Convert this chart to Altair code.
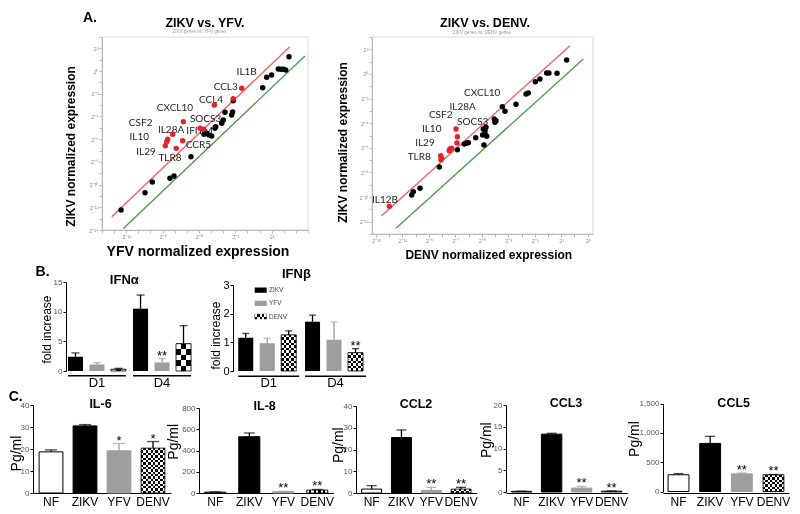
import math
import altair as alt
import pandas as pd

FONT = "Liberation Sans"
GENE_FONT = "Lato"
RED_DOT = "#e3242b"
RED_LINE = "#ec6363"
GREEN_LINE = "#4c9f4c"
GREY_BAR = "#9e9e9e"
AXIS_GREY = "#a6a6a6"

ROW1_H = 211
B_H = 89
C_H = 88
# grid column widths (layout only)
COL_W = [33, 36, 97, 34, 123, 16, 134, 157, 126]

# ---------------- Panel A (values are log2 exponents) ----------------
A1_BLACK_X = [-11.43, -9.45, -8.85, -7.39, -7.06, -5.66, -4.58, -4.36, -4.17, -3.95,
              -3.68, -3.62, -3.12, -2.99, -2.85, -2.30, -2.22, -2.17, 0.26, 0.59,
              1.00, 1.55, 1.77, 1.96, 2.16, 2.43]
A1_BLACK_Y = [-12.24, -10.72, -9.78, -9.45, -9.25, -7.55, -5.57, -5.48, -5.63, -5.72,
              -5.04, -4.90, -4.60, -4.31, -3.63, -3.87, -3.61, -2.61, -1.47, -0.55,
              -0.35, 0.18, 0.15, 0.15, 0.09, 1.26]
A1_RED_X = [-1.47, -2.17, -3.73, -6.29, -7.17, -7.58, -7.66, -7.78, -6.87, -6.34, -4.91, -4.64]
A1_RED_Y = [-1.52, -2.44, -2.99, -4.46, -5.57, -6.01, -6.22, -6.58, -6.81, -6.14, -5.04, -5.13]
A1_GENES = ["IL1B", "CCL3", "CCL4", "CXCL10", "IL28A", "CSF2", "IL10", "IL29", "TLR8", "CCR5", "SOCS3", "IFITM"]
A1_GENE_X = [-1.06, -2.79, -4.00, -6.98, -7.30, -9.81, -9.92, -9.37, -7.39, -5.05, -4.45, -4.95]
A1_GENE_Y = [-0.06, -1.43, -2.55, -3.28, -5.19, -4.55, -5.78, -7.11, -7.69, -6.52, -4.25, -5.32]
A1_RED_LINE_X = [-12.2, 2.5]
A1_RED_LINE_Y = [-12.83, 2.15]
A1_GREEN_LINE_X = [-11.24, 3.75]
A1_GREEN_LINE_Y = [-13.86, 1.33]
A1_X_LABELS = [-11, -8, -5, -2, 1]
A1_Y_LABELS = [-14, -12, -10, -8, -6, -4, -2, 0, 2]

A2_BLACK_X = [-10.30, -10.18, -9.67, -8.21, -6.85, -6.33, -6.14, -6.02, -5.46, -4.94,
              -4.76, -4.63, -4.89, -4.76, -4.69, -4.84, -4.06, -4.01, -3.93, -3.45,
              -3.25, -2.42, -1.66, -1.49, -0.96, -0.61, -0.10, 0.07, 0.68, 1.41]
A2_BLACK_Y = [-9.83, -9.57, -9.29, -7.56, -6.15, -5.69, -5.61, -5.59, -5.18, -4.96,
              -4.88, -5.07, -4.47, -4.61, -4.33, -5.77, -3.66, -3.93, -3.80, -2.66,
              -3.03, -2.47, -1.63, -1.55, -0.63, -0.41, 0.08, 0.08, 0.05, 1.13]
A2_RED_X = [-6.95, -6.85, -6.88, -7.41, -7.28, -7.46, -8.11, -8.03, -8.09, -11.99]
A2_RED_Y = [-4.47, -5.10, -5.61, -6.10, -6.04, -6.24, -6.64, -6.85, -6.97, -10.75]
A2_GENES = ["CXCL10", "IL28A", "CSF2", "SOCS3", "IL10", "IL29", "TLR8", "IL12B"]
A2_GENE_X = [-4.97, -6.45, -8.11, -5.69, -8.79, -9.30, -9.73, -12.32]
A2_GENE_Y = [-1.57, -2.71, -3.34, -3.88, -4.47, -5.63, -6.77, -10.24]
A2_RED_LINE_X = [-12.57, 1.66]
A2_RED_LINE_Y = [-11.51, 2.29]
A2_GREEN_LINE_X = [-11.49, 2.67]
A2_GREEN_LINE_Y = [-12.54, 1.21]
A2_X_LABELS = [-13, -11, -9, -7, -5, -3, -1, 1, 3]
A2_Y_LABELS = [-12, -10, -8, -6, -4, -2, 0, 2]

# ---------------- Panel B (fold increase) ----------------
B_DAYS = ["D1", "D4"]
B_VIRUS = ["ZIKV", "YFV", "DENV"]
IFNA_VALS = [[2.4, 10.5], [1.1, 1.45], [0.3, 4.6]]
IFNA_ERRS = [[0.65, 2.3], [0.3, 0.65], [0.15, 3.05]]
IFNA_STARS = [["", ""], ["", "**"], ["", ""]]
IFNB_VALS = [[1.16, 1.72], [0.97, 1.09], [1.26, 0.64]]
IFNB_ERRS = [[0.15, 0.23], [0.17, 0.62], [0.14, 0.14]]
IFNB_STARS = [["", ""], ["", ""], ["", "**"]]

# ---------------- Panel C (Pg/ml) ----------------
C_GROUPS = ["NF", "ZIKV", "YFV", "DENV"]
IL6_VALS = [18.7, 30.5, 19.2, 20.4]
IL6_ERRS = [0.9, 0.6, 3.3, 3.0]
IL6_STARS = ["", "", "*", "*"]
IL8_VALS = [8, 530, 12, 28]
IL8_ERRS = [3, 35, 3, 5]
IL8_STARS = ["", "", "**", "**"]
CCL2_VALS = [1.8, 25.5, 1.2, 1.8]
CCL2_ERRS = [1.6, 3.5, 1.4, 0.8]
CCL2_STARS = ["", "", "**", "**"]
CCL3_VALS = [0.15, 13.3, 0.9, 0.2]
CCL3_ERRS = [0.05, 0.2, 0.4, 0.05]
CCL3_STARS = ["", "", "**", "**"]
CCL5_VALS = [285, 820, 300, 285]
CCL5_ERRS = [20, 120, 15, 5]
CCL5_STARS = ["", "", "**", "**"]

SUP = str.maketrans("-0123456789", "⁻⁰¹²³⁴⁵⁶⁷⁸⁹")


def pow2(n):
    return "2" + str(n).translate(SUP)


def label_expr(vals):
    keys = ",".join(str(v) for v in vals)
    labs = ",".join("'%s'" % pow2(v) for v in vals)
    return "indexof([%s], datum.value) >= 0 ? [%s][indexof([%s], datum.value)] : ''" % (keys, labs, keys)


def text_layer(txt, x, y, size, weight="normal", color="black", font=FONT, align="center", baseline="middle"):
    return alt.Chart(pd.DataFrame({"t": [txt]})).mark_text(
        font=font, fontSize=size, fontWeight=weight, color=color, align=align, baseline=baseline
    ).encode(x=alt.value(x), y=alt.value(y), text="t:N")


def checker_fills(n_cols, n_rows):
    def stripes(n, horizontal, first, second):
        stops = []
        for k in range(n):
            c = first if k % 2 == 0 else second
            stops.append({"offset": round(k / n, 5), "color": c})
            stops.append({"offset": round((k + 1) / n, 5), "color": c})
        return {"gradient": "linear", "stops": stops, "x1": 0, "y1": 0,
                "x2": 0 if horizontal else 1, "y2": 1 if horizontal else 0}
    return (stripes(max(1, n_cols), False, "#000000", "#ffffff"),
            stripes(max(1, n_rows), True, "#ffffff", "#000000"))


def pattern_layers(base, enc, w_px, h_px, cell, outline=True):
    ga, gb = checker_fills(int(round(w_px / cell)), int(round(h_px / cell)))
    out = [base.mark_bar(fill=ga).encode(**enc),
           base.mark_bar(fill=gb, blend="difference").encode(**enc)]
    if outline:
        out.append(base.mark_bar(fillOpacity=0, stroke="black", strokeWidth=0.8).encode(**enc))
    return out


def scatter_panel(xdom, ydom, plot_w, cell_w, frame_h, bx, by, rx, ry, genes, gx, gy, rl, gl,
                  xlabels, ylabels, xtitle, xtitle_size, xtitle_xy, ytitle_xy,
                  title, title_xy, subtitle, subtitle_xy, letter=None):
    xs = alt.Scale(domain=xdom, nice=False, zero=False, range=[0, plot_w])
    ys = alt.Scale(domain=ydom, nice=False, zero=False, range=[frame_h, 0])
    common = dict(labelFont=FONT, labelFontSize=5.5, labelColor="#8c8c8c", labelPadding=1,
                  labelOverlap=False, labelFlush=False, tickSize=3, tickColor=AXIS_GREY,
                  tickWidth=0.8, domainColor=AXIS_GREY, domainWidth=1, grid=False,
                  titleFont=FONT, titleFontWeight="bold", titleColor="black",
                  titleAlign="center", titleBaseline="middle")
    xax = alt.Axis(values=list(range(math.ceil(xdom[0]), math.floor(xdom[1]) + 1)),
                   labelExpr=label_expr(xlabels), offset=frame_h - ROW1_H,
                   title=xtitle, titleFontSize=xtitle_size,
                   titleX=xtitle_xy[0], titleY=xtitle_xy[1], **common)
    yax = alt.Axis(values=list(range(math.ceil(ydom[0]), math.floor(ydom[1]) + 1)),
                   labelExpr=label_expr(ylabels), title="ZIKV normalized  expression",
                   titleFontSize=12, titleAngle=270,
                   titleX=ytitle_xy[0], titleY=ytitle_xy[1], **common)

    def X(f):
        return alt.X(f, type="quantitative", scale=xs, axis=xax)

    def Y(f):
        return alt.Y(f, type="quantitative", scale=ys, axis=yax)

    frame = alt.Chart(pd.DataFrame({"x0": [xdom[0]], "x1": [xdom[1]], "y0": [ydom[0]], "y1": [ydom[1]]})).mark_rect(
        fillOpacity=0, stroke="#cfcfcf", strokeWidth=0.8).encode(x=X("x0"), x2="x1", y=Y("y0"), y2="y1")
    lines_df = pd.DataFrame({"x": rl[0] + gl[0], "y": rl[1] + gl[1],
                             "line": ["red", "red", "green", "green"]})
    lines = alt.Chart(lines_df).mark_line(strokeWidth=1.4).encode(
        x=X("x"), y=Y("y"),
        color=alt.Color("line:N", scale=alt.Scale(domain=["red", "green"], range=[RED_LINE, GREEN_LINE]), legend=None))
    lab = alt.Chart(pd.DataFrame({"x": gx, "y": gy, "g": genes})).mark_text(
        font=GENE_FONT, fontSize=10, color="#1e1e1e").encode(x=X("x"), y=Y("y"), text="g:N")
    black = alt.Chart(pd.DataFrame({"x": bx, "y": by})).mark_circle(size=30, opacity=1, color="black").encode(
        x=X("x"), y=Y("y"))
    red = alt.Chart(pd.DataFrame({"x": rx, "y": ry})).mark_circle(size=30, opacity=1, color=RED_DOT).encode(
        x=X("x"), y=Y("y"))
    layers = [frame, lines, lab, black, red,
              text_layer(title, title_xy[0], title_xy[1], 12.5, "bold"),
              text_layer(subtitle, subtitle_xy[0], subtitle_xy[1], 4.5, color="#9a9a9a")]
    if letter:
        layers.append(text_layer(letter[0], letter[1], letter[2], 14, "bold", baseline="top"))
    return alt.layer(*layers).properties(width=cell_w, height=ROW1_H)


def ifn_chart(title, vals, errs, stars, ymax, yvals, ytop, rng_w, cell_w, pi, po, opi, cell_px,
              ylab_size, ylab_color, title_xy, ytitle_xy, group_y, legend=False, letter=None):
    rows = []
    for j, vir in enumerate(B_VIRUS):
        for i, day in enumerate(B_DAYS):
            rows.append({"day": day, "virus": vir, "v": vals[j][i], "e": errs[j][i], "star": stars[j][i]})
    df = pd.DataFrame(rows)
    df["top"] = df["v"] + df["e"]
    xs = alt.Scale(domain=B_DAYS, range=[0, rng_w], paddingInner=pi, paddingOuter=po)
    xos = alt.Scale(domain=B_VIRUS, paddingInner=opi, paddingOuter=0)
    ys = alt.Scale(domain=[0, ymax], range=[B_H, ytop], nice=False)
    fill_s = alt.Scale(domain=B_VIRUS, range=["#000000", GREY_BAR, "#555555"])
    err_s = alt.Scale(domain=B_VIRUS, range=["#000000", GREY_BAR, "#000000"])
    xax = alt.Axis(title=None, labelAngle=0, labelFont=FONT, labelFontSize=13, labelColor="black",
                   labelPadding=5, ticks=False, domain=False)
    yax = alt.Axis(values=yvals, title="fold increase", titleFont=FONT, titleFontSize=12,
                   titleFontWeight="normal", titleColor="black", titleAngle=270, titleAlign="center",
                   titleBaseline="middle", titleX=ytitle_xy[0], titleY=ytitle_xy[1],
                   labelFont=FONT, labelFontSize=ylab_size, labelColor=ylab_color, labelPadding=1,
                   tickSize=3, tickColor="black", domainColor="black", grid=False)
    X = alt.X("day:N", scale=xs, axis=xax, sort=B_DAYS)
    XO = alt.XOffset("virus:N", scale=xos, sort=B_VIRUS)

    def Y(f):
        return alt.Y(f, type="quantitative", scale=ys, axis=yax)

    base = alt.Chart(df)
    layers = [
        base.transform_filter("datum.virus != 'DENV'").mark_bar().encode(
            x=X, xOffset=XO, y=Y("v"), fill=alt.Fill("virus:N", scale=fill_s, legend=None)),
    ]
    step = rng_w / (2 - pi + 2 * po)
    band = step * (1 - pi)
    obw = band / (3 - opi) * (1 - opi)
    for i, day in enumerate(B_DAYS):
        dv = vals[2][i]
        hpx = dv / ymax * (B_H - ytop)
        sub = base.transform_filter("datum.virus == 'DENV' && datum.day == '%s'" % day)
        layers += pattern_layers(sub, dict(x=X, xOffset=XO, y=Y("v")), obw, hpx, cell_px)
    cap = max(4, round(obw * 0.5))
    layers += [
        base.mark_rule(strokeWidth=1.3).encode(
            x=X, xOffset=XO, y=Y("v"), y2="top", color=alt.Color("virus:N", scale=err_s, legend=None)),
        base.mark_tick(thickness=1.3, size=cap).encode(
            x=X, xOffset=XO, y=Y("top"), color=alt.Color("virus:N", scale=err_s, legend=None)),
        base.mark_text(font=FONT, fontSize=13, baseline="alphabetic", dy=1).encode(
            x=X, xOffset=XO, y=Y("top"), text="star:N"),
        alt.Chart(pd.DataFrame({"day": B_DAYS})).mark_rect(color="black").encode(
            x=X, y=alt.value(group_y), y2=alt.value(group_y + 1.4)),
        text_layer(title, title_xy[0], title_xy[1], 13, "bold"),
    ]
    if letter:
        layers.append(text_layer(letter[0], letter[1], letter[2], 14, "bold"))
    main = alt.layer(*layers)
    if legend:
        ldf = pd.DataFrame({"virus": B_VIRUS})
        lys = alt.Scale(domain=B_VIRUS, range=[5.5, 37.2], paddingInner=0.6, paddingOuter=0)
        LY = alt.Y("virus:N", scale=lys, axis=None, sort=B_VIRUS)
        lbase = alt.Chart(ldf)
        leg_layers = [
            lbase.transform_filter("datum.virus != 'DENV'").mark_rect().encode(
                x=alt.value(21.7), x2=alt.value(33.7), y=LY,
                fill=alt.Fill("virus:N", scale=fill_s, legend=None)),
        ]
        leg_layers += pattern_layers(lbase.transform_filter("datum.virus == 'DENV'"),
                                     dict(x=alt.value(21.7), x2=alt.value(33.7), y=LY), 12, 5.3, 2.5,
                                     outline=False)
        leg_layers.append(lbase.mark_text(font=FONT, fontSize=6.5, color="#444444", align="left").encode(
            x=alt.value(36), y=LY, text="virus:N"))
        leg = alt.layer(*leg_layers)
        return alt.layer(main, leg).resolve_scale(y="independent").properties(width=cell_w, height=B_H)
    return main.properties(width=cell_w, height=B_H)


def c_chart(title, vals, errs, stars, ymax, ystep, yrange, rng_w, cell_w, pi, po,
            title_xy, ytitle_xy, letter=None):
    df = pd.DataFrame({"cat": C_GROUPS, "v": vals, "e": errs, "star": stars})
    df["top"] = df["v"] + df["e"]
    xs = alt.Scale(domain=C_GROUPS, range=[0, rng_w], paddingInner=pi, paddingOuter=po)
    ys = alt.Scale(domain=[0, ymax], range=yrange, nice=False)
    fill_s = alt.Scale(domain=C_GROUPS, range=["#ffffff", "#000000", GREY_BAR, "#555555"])
    stroke_s = alt.Scale(domain=C_GROUPS, range=["#000000", "#000000", GREY_BAR, "#000000"])
    xax = alt.Axis(title=None, labelAngle=0, labelFont=FONT, labelFontSize=12, labelColor="black",
                   labelPadding=3, ticks=False, domainColor="black", domainWidth=1)
    yax = alt.Axis(values=list(range(0, ymax + 1, ystep)), title="Pg/ml", titleFont=FONT,
                   titleFontSize=14, titleFontWeight="normal", titleColor="black", titleAngle=270,
                   titleAlign="center", titleBaseline="middle", titleX=ytitle_xy[0], titleY=ytitle_xy[1],
                   labelFont=FONT, labelFontSize=8, labelColor="#555555", labelPadding=1,
                   tickSize=3, tickColor="black", domainColor="black", grid=False)
    X = alt.X("cat:N", scale=xs, axis=xax, sort=C_GROUPS)

    def Y(f):
        return alt.Y(f, type="quantitative", scale=ys, axis=yax)

    base = alt.Chart(df)
    step = rng_w / (4 - pi + 2 * po)
    bw = step * (1 - pi)
    hpx = vals[3] / ymax * (yrange[0] - yrange[1])
    layers = [
        base.transform_filter("datum.cat != 'DENV'").mark_bar(strokeWidth=1).encode(
            x=X, y=Y("v"), fill=alt.Fill("cat:N", scale=fill_s, legend=None),
            stroke=alt.Stroke("cat:N", scale=stroke_s, legend=None)),
    ]
    layers += pattern_layers(base.transform_filter("datum.cat == 'DENV'"), dict(x=X, y=Y("v")), bw, hpx, 2.4)
    cap = max(4, round(bw * 0.5))
    layers += [
        base.mark_rule(strokeWidth=1.3).encode(
            x=X, y=Y("v"), y2="top", color=alt.Color("cat:N", scale=stroke_s, legend=None)),
        base.mark_tick(thickness=1.3, size=cap).encode(
            x=X, y=Y("top"), color=alt.Color("cat:N", scale=stroke_s, legend=None)),
        base.mark_text(font=FONT, fontSize=13, baseline="alphabetic", dy=1).encode(
            x=X, y=Y("top"), text="star:N"),
        text_layer(title, title_xy[0], title_xy[1], 12.5, "bold"),
    ]
    if letter:
        layers.append(text_layer(letter[0], letter[1], letter[2], 14, "bold"))
    return alt.layer(*layers).properties(width=cell_w, height=C_H)


def spacer(w, h):
    return alt.Chart(pd.DataFrame({"s": [0]})).mark_point(opacity=0, size=1).encode(
        x=alt.value(0), y=alt.value(0)).properties(width=w, height=h)


def grid_row(h, placed):
    return [placed[c] if c in placed else spacer(COL_W[c], h) for c in range(len(COL_W))]


scL = scatter_panel([-13, 4], [-14, 3], 206, COL_W[2], 193, A1_BLACK_X, A1_BLACK_Y, A1_RED_X, A1_RED_Y,
                    A1_GENES, A1_GENE_X, A1_GENE_Y, (A1_RED_LINE_X, A1_RED_LINE_Y),
                    (A1_GREEN_LINE_X, A1_GREEN_LINE_Y), A1_X_LABELS, A1_Y_LABELS,
                    "YFV normalized expression", 14, (95.5, 21.7), (-32, 109),
                    "ZIKV vs. YFV.", (103, -14.5), "ZIKV genes vs. YFV genes", (97.5, -5.5),
                    letter=("A.", -12, -26.5))
scR = scatter_panel([-13.3, 3.4], [-13, 3], 221, COL_W[6], 197, A2_BLACK_X, A2_BLACK_Y, A2_RED_X, A2_RED_Y,
                    A2_GENES, A2_GENE_X, A2_GENE_Y, (A2_RED_LINE_X, A2_RED_LINE_Y),
                    (A2_GREEN_LINE_X, A2_GREEN_LINE_Y), A2_X_LABELS, A2_Y_LABELS,
                    "DENV normalized expression", 12, (116.3, 20), (-30, 105),
                    "ZIKV vs. DENV.", (113, -14), "ZIKV genes vs. DENV genes", (110, -4))

ifna = ifn_chart("IFNα", IFNA_VALS, IFNA_ERRS, IFNA_STARS, 15, [0, 5, 10, 15], 0, 127, COL_W[1],
                 0.108, 0.03, 0.3, 5, 8, "#555555", (58.3, -2), (-20, 47), 93,
                 letter=("B.", -23.4, -10.3))
ifnb = ifn_chart("IFNβ", IFNB_VALS, IFNB_ERRS, IFNB_STARS, 3, [0, 1, 2, 3], 3, 138.2, COL_W[4],
                 0.087, 0.078, 0.35, 2.5, 11, "black", (63.4, -8), (-17.3, 53), 93.5, legend=True)

il6 = c_chart("IL-6", IL6_VALS, IL6_ERRS, IL6_STARS, 40, 10, [88, 0], 138, COL_W[0], 0.3, 0.18,
              (67.5, -1), (-17, 48), letter=("C.", -17.3, -8.3))
il8 = c_chart("IL-8", IL8_VALS, IL8_ERRS, IL8_STARS, 800, 200, [88, 3], 134.6, COL_W[3], 0.38, 0.17,
              (65.7, 1), (-26, 36.3))
ccl2 = c_chart("CCL2", CCL2_VALS, CCL2_ERRS, CCL2_STARS, 40, 10, [88, 1], 120.7, COL_W[5], 0.33, 0.19,
               (60, -1), (-17.7, 39.7))
ccl3 = c_chart("CCL3", CCL3_VALS, CCL3_ERRS, CCL3_STARS, 20, 5, [87, 0], 121.2, COL_W[7], 0.32, 0.18,
               (60, -2), (-19.3, 34.7))
ccl5 = c_chart("CCL5", CCL5_VALS, CCL5_ERRS, CCL5_STARS, 1500, 500, [86.5, -1.5], 126, COL_W[8], 0.34, 0.16,
               (70.7, -2), (-28.3, 33.5))

cells = (grid_row(ROW1_H, {2: scL, 6: scR})
         + grid_row(B_H, {1: ifna, 4: ifnb})
         + grid_row(C_H, {0: il6, 3: il8, 5: ccl2, 7: ccl3, 8: ccl5}))

chart = alt.concat(*cells, columns=len(COL_W), align="each", bounds="flush",
                   spacing={"row": 34, "column": 0}).resolve_scale(
    color="independent", fill="independent", stroke="independent"
).properties(
    padding={"top": 2, "left": 0, "right": 0, "bottom": 0}, background="white"
).configure(font=FONT, view=alt.ViewConfig(stroke=None))

chart.save("out.html", embed_options={"renderer": "svg", "actions": False})
